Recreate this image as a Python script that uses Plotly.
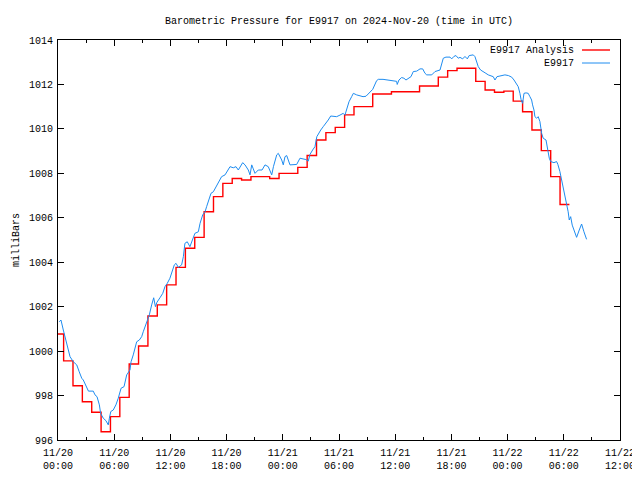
import pandas as pd
import plotly.graph_objects as go

START = "2024-11-20 00:00"

# Observed station pressure (minutes after start, mb)
obs_minutes = [8, 19, 34, 49, 66, 77, 98, 120, 136, 152, 162, 184, 195, 226, 237, 250, 265, 273, 290, 307,
               322, 329, 338, 354, 371, 386, 404, 423, 440, 461, 468, 482, 504, 521, 536, 546, 568, 585, 600, 613,
               624, 634, 653, 671, 685, 700, 717, 732, 745, 756, 771, 792, 803, 813, 828, 845, 863, 877, 899, 910,
               927, 942, 952, 967, 980, 995, 1012, 1028, 1038, 1048, 1070, 1091, 1102, 1123, 1140, 1155, 1166, 1183, 1198, 1219,
               1230, 1241, 1251, 1262, 1283, 1307, 1326, 1347, 1369, 1380, 1401, 1411, 1433, 1443, 1454, 1465, 1486, 1505, 1529, 1550,
               1569, 1588, 1603, 1614, 1631, 1646, 1658, 1668, 1683, 1699, 1717, 1731, 1747, 1763, 1785, 1806, 1827, 1838, 1849, 1864,
               1881, 1892, 1913, 1934, 1954, 1973, 1999, 2016, 2041, 2052, 2082, 2116, 2146, 2169, 2173, 2184, 2201, 2216, 2229, 2250,
               2261, 2276, 2298, 2319, 2336, 2351, 2362, 2394, 2415, 2447, 2458, 2468, 2485, 2511, 2522, 2536, 2549, 2564, 2575, 2592,
               2607, 2622, 2634, 2660, 2671, 2682, 2692, 2707, 2729, 2741, 2756, 2771, 2788, 2799, 2812, 2831, 2863, 2885, 2906, 2921,
               2934, 2948, 2959, 2966, 2976, 2985, 2998, 3012, 3023, 3034, 3040, 3049, 3055, 3066, 3076, 3087, 3098, 3108, 3126, 3134,
               3147, 3156, 3177, 3194, 3202, 3215, 3226, 3232, 3241, 3254, 3262, 3268, 3275, 3284, 3294, 3307, 3322, 3339, 3354, 3369,
               3386]
obs_values = [1001.32, 1001.40, 1000.95, 1000.50, 1000.05, 999.75, 999.52, 999.38, 999.07, 998.78, 998.70, 998.40, 998.20, 998.20, 998.03, 997.95, 997.58, 997.20, 996.98, 996.87,
              996.68, 996.98, 997.28, 997.35, 997.58, 997.88, 998.33, 998.40, 998.93, 999.15, 999.52, 999.83, 1000.42, 1000.50, 1000.65, 1000.87, 1001.25, 1001.63, 1002.08, 1002.40,
              1002.00, 1002.20, 1002.40, 1002.60, 1002.90, 1003.05, 1003.28, 1003.57, 1003.88, 1003.95, 1003.77, 1003.88, 1004.25, 1004.85, 1004.92, 1004.70, 1005.00, 1005.30, 1005.37, 1005.75,
              1006.13, 1006.27, 1006.50, 1006.80, 1007.10, 1007.17, 1007.40, 1007.60, 1007.70, 1007.85, 1007.93, 1008.22, 1008.30, 1008.25, 1008.30, 1008.15, 1008.30, 1008.48, 1008.38, 1008.15,
              1007.93, 1008.38, 1008.20, 1008.00, 1008.15, 1008.15, 1008.38, 1008.30, 1007.93, 1008.30, 1008.83, 1008.90, 1008.60, 1008.38, 1008.75, 1008.80, 1008.38, 1008.40, 1008.40, 1008.68,
              1008.65, 1008.62, 1008.55, 1008.85, 1009.05, 1009.20, 1009.65, 1009.80, 1009.95, 1010.10, 1010.25, 1010.40, 1010.58, 1010.58, 1010.55, 1010.62, 1010.70, 1010.62, 1010.92, 1011.22,
              1011.45, 1011.60, 1011.53, 1011.50, 1011.45, 1011.47, 1011.67, 1011.78, 1012.17, 1012.23, 1012.23, 1012.20, 1012.18, 1012.14, 1012.00, 1012.20, 1012.31, 1012.28, 1012.20, 1012.30,
              1012.35, 1012.58, 1012.60, 1012.70, 1012.70, 1012.50, 1012.43, 1012.43, 1012.58, 1012.65, 1012.88, 1013.18, 1013.23, 1013.23, 1013.15, 1013.26, 1013.30, 1013.18, 1013.22, 1013.15,
              1013.26, 1013.15, 1013.30, 1013.33, 1013.25, 1012.95, 1012.80, 1012.65, 1012.53, 1012.50, 1012.43, 1012.40, 1012.35, 1012.20, 1012.35, 1012.38, 1012.43, 1012.40, 1012.33, 1012.20,
              1012.05, 1011.90, 1011.60, 1011.33, 1011.15, 1011.60, 1011.62, 1011.60, 1011.45, 1011.30, 1011.08, 1010.85, 1010.55, 1010.48, 1010.55, 1010.33, 1009.80, 1009.58, 1009.50, 1009.20,
              1008.68, 1008.53, 1008.48, 1008.53, 1008.40, 1008.08, 1007.70, 1007.40, 1007.10, 1006.80, 1006.50, 1006.27, 1005.90, 1006.05, 1005.67, 1005.37, 1005.12, 1005.45, 1005.72, 1005.37,
              1005.03]

# Analysis values (hourly steps, minutes after start)
ana_minutes = [0] + [36 + 60 * k for k in range(55)]
ana_values = [1000.77, 999.56, 998.44, 997.72, 997.25, 996.37, 997.05, 997.92, 999.42, 1000.23,
              1001.58, 1002.08, 1002.98, 1003.77, 1004.63, 1005.12, 1006.27, 1006.95, 1007.55, 1007.77,
              1007.70, 1007.85, 1007.85, 1007.77, 1008.00, 1008.00, 1008.27, 1008.80, 1009.50, 1009.83,
              1010.07, 1010.63, 1011.00, 1011.00, 1011.57, 1011.57, 1011.67, 1011.67, 1011.67, 1011.93,
              1011.93, 1012.33, 1012.62, 1012.73, 1012.73, 1012.14, 1011.75, 1011.65, 1011.70, 1011.25,
              1010.77, 1009.95, 1009.02, 1007.85, 1006.60, 1006.60]

series_names = ["E9917 Analysis", "E9917"]
series_colors = ["#ff0000", "#1e8cf0"]

start = pd.Timestamp(START)
obs_t = [start + pd.Timedelta(minutes=m) for m in obs_minutes]
ana_t = [start + pd.Timedelta(minutes=m) for m in ana_minutes]

FONT = "Liberation Mono"
OFF = 8                      # default page body margin
W, H = 640 - OFF, 480 - OFF  # figure size inside the window
PL, PR, PT, PB = 58, 620, 40, 440   # plot area in window pixels
ML, MR, MT, MB = PL - OFF, 640 - PR, PT - OFF, 480 - PB
pw, ph = PR - PL, PB - PT


def px(xw):
    return (xw - PL) / pw


def py(yw):
    return 1 - (yw - PT) / ph


fig = go.Figure()
fig.add_trace(go.Scatter(x=ana_t, y=ana_values, mode="lines", name=series_names[0],
                         line=dict(color=series_colors[0], width=1.4, shape="hv"), showlegend=False))
fig.add_trace(go.Scatter(x=obs_t, y=obs_values, mode="lines", name=series_names[1],
                         line=dict(color=series_colors[1], width=1.0), showlegend=False))

# gnuplot-style key: text right-aligned, sample line to its right
for i, (nm, col) in enumerate(zip(series_names, series_colors)):
    yw = 50 + 13 * i
    fig.add_annotation(x=px(576), y=py(yw), xref="paper", yref="paper", text=nm,
                       showarrow=False, xanchor="right", yanchor="middle",
                       font=dict(family=FONT, size=10, color="black"))
    fig.add_shape(type="line", xref="paper", yref="paper",
                  x0=px(582), x1=px(610), y0=py(yw), y1=py(yw),
                  line=dict(color=col, width=1.4 if i == 0 else 1.0))

fig.add_annotation(x=px(16), y=py(240), xref="paper", yref="paper", text="milliBars",
                   textangle=-90, showarrow=False, xanchor="center", yanchor="middle",
                   font=dict(family=FONT, size=10, color="black"))

fig.update_layout(
    width=W, height=H,
    margin=dict(l=ML, r=MR, t=MT, b=MB, autoexpand=False),
    paper_bgcolor="white", plot_bgcolor="white",
    font=dict(family=FONT, size=10, color="black"),
    title=dict(text="Barometric Pressure for E9917 on 2024-Nov-20 (time in UTC)",
               xref="paper", x=0.5, xanchor="center", yref="container",
               y=1 - (20 - OFF) / H, yanchor="middle",
               font=dict(family=FONT, size=10, color="black")),
    showlegend=False,
)
fig.update_xaxes(
    type="date", automargin=False,
    range=["2024-11-20 00:00", "2024-11-22 12:00"],
    dtick=6 * 3600 * 1000, tick0="2024-11-20 00:00",
    tickformat="%m/%d<br>%H:%M",
    ticks="inside", ticklen=6, tickcolor="black", tickwidth=1,
    minor=dict(dtick=3 * 3600 * 1000, ticks="inside", ticklen=3, tickcolor="black"),
    showline=True, linecolor="black", linewidth=1, mirror="allticks",
    showgrid=False, zeroline=False, ticklabelstandoff=3,
    tickfont=dict(family=FONT, size=10),
)
fig.update_yaxes(
    range=[996, 1014], dtick=2, automargin=False,
    ticks="inside", ticklen=6, tickcolor="black", tickwidth=1,
    showline=True, linecolor="black", linewidth=1, mirror="allticks",
    showgrid=False, zeroline=False, ticklabelstandoff=2,
    tickfont=dict(family=FONT, size=10),
)

fig.write_html("out.html")
